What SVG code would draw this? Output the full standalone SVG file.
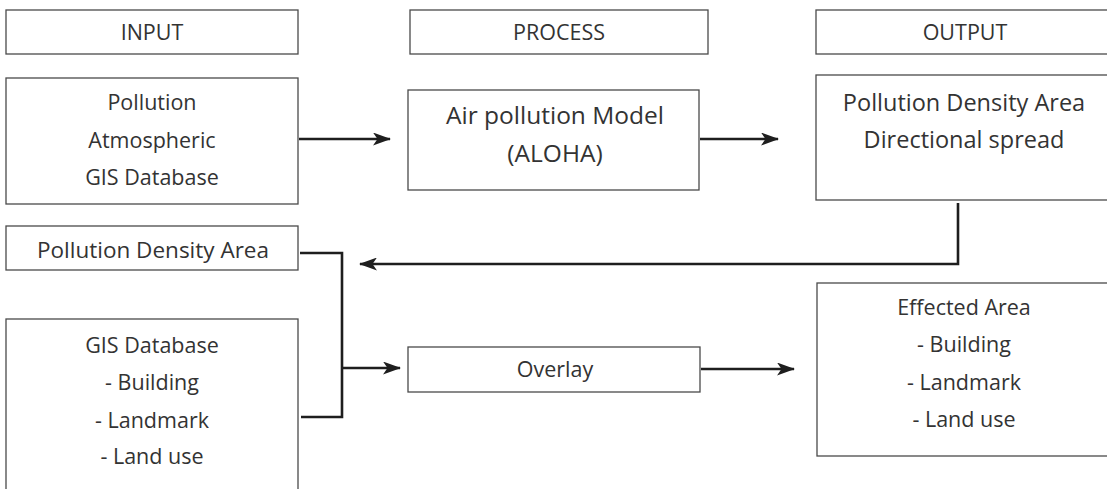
<svg xmlns="http://www.w3.org/2000/svg" width="1107" height="489" viewBox="0 0 1107 489">
<style>
.box{fill:#fff;stroke:#4a4a4a;stroke-width:1.3}
.t{font-family:"Open Sans","Noto Sans","Liberation Sans",sans-serif;font-size:21.5px;font-weight:400;fill:#333;text-anchor:middle}
.big{font-size:24.5px}
.mid{font-size:23.5px}
.sm{font-size:22.5px}
.c{fill:none;stroke:#1e1e1e;stroke-width:2.6}
</style>
<defs>
<marker id="ah" viewBox="0 0 18 13" refX="17" refY="6.5" markerWidth="18" markerHeight="13" markerUnits="userSpaceOnUse" orient="auto">
<path d="M0,0 L18,6.5 L0,13 L4.5,6.5 Z" fill="#1e1e1e"/>
</marker>
</defs>
<rect width="1107" height="489" fill="#fff"/>
<g id="input-header"><rect class="box" x="6" y="10" width="292" height="44"/><text class="t" x="152" y="40">INPUT</text></g>
<g id="process-header"><rect class="box" x="410" y="10" width="298" height="44"/><text class="t" x="559" y="40">PROCESS</text></g>
<g id="output-header"><rect class="box" x="816" y="10" width="300" height="44"/><text class="t" x="965" y="40">OUTPUT</text></g>
<g id="input-data"><rect class="box" x="6" y="78" width="292" height="126"/>
<text class="t" x="152" y="110">Pollution</text>
<text class="t" x="152" y="148">Atmospheric</text>
<text class="t" x="152" y="185">GIS Database</text></g>
<g id="aloha"><rect class="box" x="408" y="90" width="291" height="100"/>
<text class="t big" x="555" y="124">Air pollution Model</text>
<text class="t big" x="555" y="162">(ALOHA)</text></g>
<g id="density-out"><rect class="box" x="816" y="75" width="300" height="125"/>
<text class="t mid" x="964" y="111">Pollution Density Area</text>
<text class="t mid" x="964" y="148">Directional spread</text></g>
<g id="density-in"><rect class="box" x="6" y="226" width="292" height="44"/>
<text class="t sm" x="153" y="258">Pollution Density Area</text></g>
<g id="gis"><rect class="box" x="6" y="319" width="292" height="180"/>
<text class="t" x="152" y="353">GIS Database</text>
<text class="t" x="152" y="390">- Building</text>
<text class="t" x="152" y="428">- Landmark</text>
<text class="t" x="152" y="464">- Land use</text></g>
<g id="overlay"><rect class="box" x="408" y="347" width="292" height="45"/>
<text class="t" x="555" y="377">Overlay</text></g>
<g id="effected"><rect class="box" x="817" y="283" width="300" height="173"/>
<text class="t" x="964" y="315">Effected Area</text>
<text class="t" x="964" y="352">- Building</text>
<text class="t" x="964" y="390">- Landmark</text>
<text class="t" x="964" y="427">- Land use</text></g>
<g id="connectors">
<line class="c" x1="299" y1="139" x2="390" y2="139" marker-end="url(#ah)"/>
<line class="c" x1="700" y1="139" x2="778" y2="139" marker-end="url(#ah)"/>
<polyline class="c" points="958,203 958,264 360,264" marker-end="url(#ah)"/>
<polyline class="c" points="300,253 342,253 342,417 301,417"/>
<line class="c" x1="342" y1="368" x2="400" y2="368" marker-end="url(#ah)"/>
<line class="c" x1="701" y1="369" x2="794" y2="369" marker-end="url(#ah)"/>
</g>
</svg>
